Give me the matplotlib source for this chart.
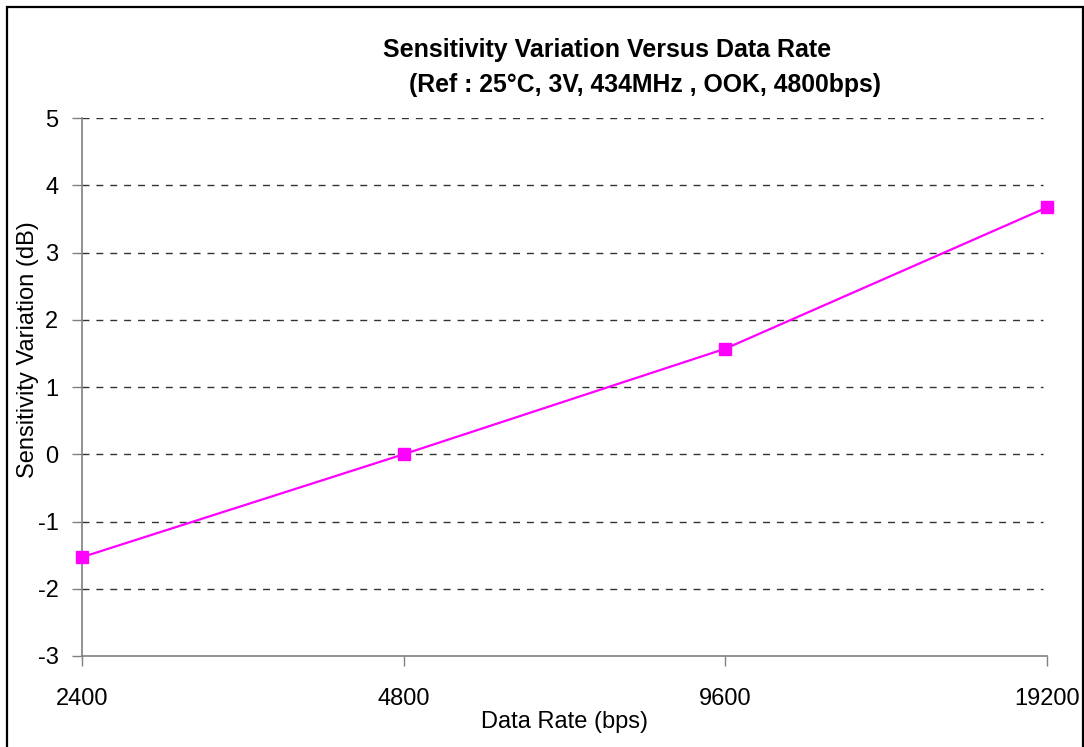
import matplotlib.pyplot as plt
import matplotlib.patches as patches

plt.rcParams['font.family'] = ['Liberation Sans', 'DejaVu Sans']

# data
data_rates = ['2400', '4800', '9600', '19200']
sens_var = [-1.53, 0.0, 1.57, 3.67]
y_ticks = [-3, -2, -1, 0, 1, 2, 3, 4, 5]

fig = plt.figure(figsize=(10.84, 7.47), dpi=100)
ax = fig.add_axes([82 / 1084, 1 - 656 / 747, (1047 - 82) / 1084, (656 - 118) / 747])

pos = list(range(len(data_rates)))
ax.plot(pos, sens_var, color='#FF00FF', lw=1.6, marker='s', ms=9,
        markerfacecolor='#FF00FF', markeredgecolor='#FF00FF', clip_on=False, zorder=3)

ax.set_xlim(0, len(data_rates) - 1)
ax.set_ylim(-3, 5)
ax.set_xticks(pos)
ax.set_xticklabels(data_rates)
ax.set_yticks(y_ticks)
ax.set_yticklabels([str(v) for v in y_ticks])

for v in y_ticks[1:]:
    ax.axhline(v, xmax=0.996, color='#333333', lw=1.0, ls=(0, (5, 5)), zorder=1)

for s in ['top', 'right']:
    ax.spines[s].set_visible(False)
for s in ['left', 'bottom']:
    ax.spines[s].set_color('#808080')
    ax.spines[s].set_linewidth(1.2)

ax.tick_params(axis='both', direction='out', length=7, width=1, color='#808080',
               labelsize=17, labelcolor='black')
ax.tick_params(axis='x', pad=16)
ax.tick_params(axis='y', pad=10)

ax.set_xlabel('Data Rate (bps)', fontsize=17)
ax.xaxis.set_label_coords(0.5, -(722 - 656) / 538)
ax.xaxis.label.set_va('center')
ax.set_ylabel('Sensitivity Variation (dB)', fontsize=17)
ax.yaxis.set_label_coords(-(82 - 28) / 965, (656 - 350) / 538)
ax.yaxis.label.set_va('center')

fig.text(607 / 1084, 1 - 50 / 747, 'Sensitivity Variation Versus Data Rate',
         ha='center', va='center', fontsize=18, fontweight='bold')
fig.text(645 / 1084, 1 - 85 / 747, '(Ref : 25°C, 3V, 434MHz , OOK, 4800bps)',
         ha='center', va='center', fontsize=17.8, fontweight='bold')

# outer chart border
fig.patches.append(patches.Rectangle((7 / 1084, -0.05), 1076 / 1084, 1.05 - 7 / 747,
                                     transform=fig.transFigure, fill=False,
                                     edgecolor='black', lw=1.6))

fig.savefig('out.png', dpi=100)
